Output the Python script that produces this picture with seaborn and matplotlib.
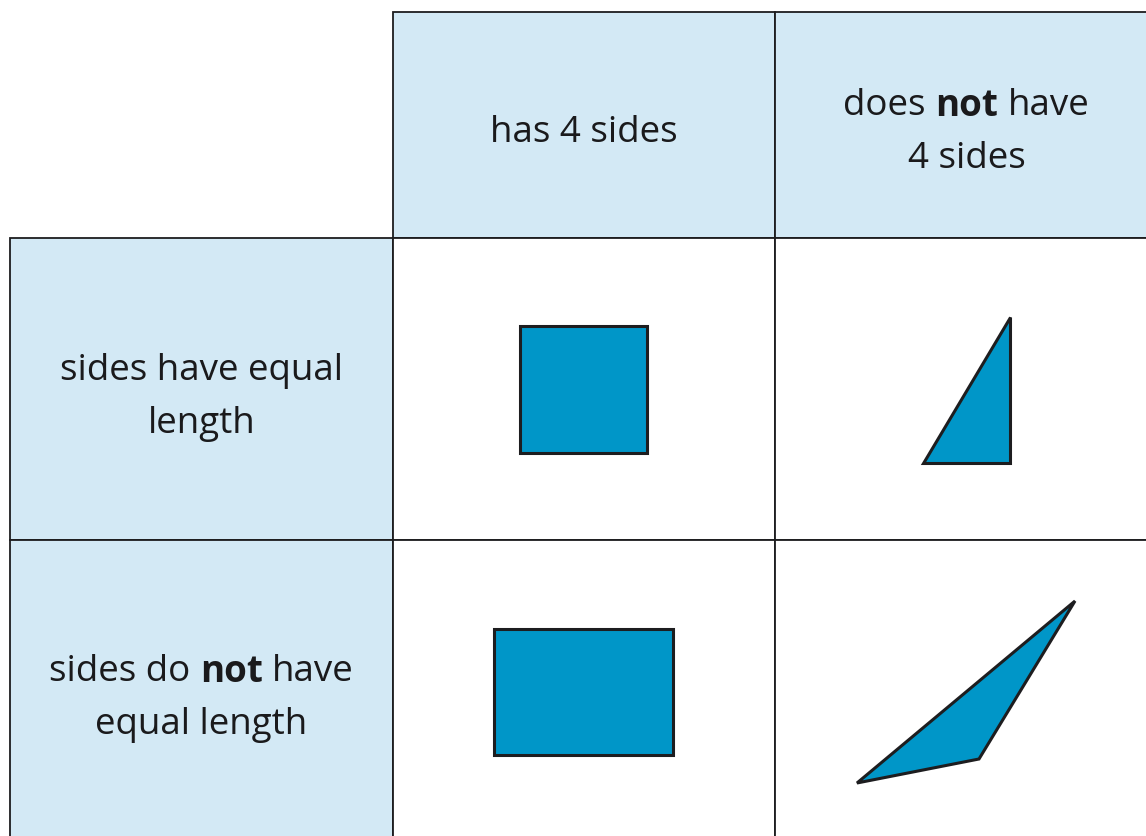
import numpy as np
import pandas as pd
import seaborn as sns
import matplotlib
matplotlib.use("Agg")
import matplotlib.pyplot as plt
from matplotlib.patches import Rectangle

# ---------------- data ----------------
col_edges = [10, 393, 775, 1160]
row_edges = [13, 239, 541, 860]

header_labels = [
    [],
    [[("has 4 sides", False)]],
    [[("does", False), ("not", True), ("have", False)], [("4 sides", False)]],
]
row_labels = [
    [[("sides have equal", False)], [("length", False)]],
    [[("sides do", False), ("not", True), ("have", False)], [("equal length", False)]],
]

square_x = [520, 647, 647, 520]
square_y = [327, 327, 454, 454]
right_tri_x = [1010, 1010, 923]
right_tri_y = [318, 464, 464]
rect_x = [494, 673, 673, 494]
rect_y = [630, 630, 756, 756]
scalene_x = [1075, 979, 857]
scalene_y = [602, 760, 784]

# ---------------- style ----------------
W, H = 1146, 837
LIGHT = "#d3e9f5"
SHAPE = "#0096c8"
EDGE = "#1d1d1f"
TEXT = "#1a1a1c"
FONT = "Open Sans"
FS = 26.5
LINE_GAP = 53

sns.set_theme(style="white")
plt.rcParams["font.family"] = [FONT, "DejaVu Sans"]

fig = plt.figure(figsize=(W / 100, H / 100), dpi=100)
ax = fig.add_axes([0, 0, 1, 1])
ax.set_xlim(0, W)
ax.set_ylim(H, 0)
ax.axis("off")
fig.patch.set_facecolor("white")

# grid cells
for r in range(3):
    for c in range(3):
        if r == 0 and c == 0:
            continue
        x0, x1 = col_edges[c], col_edges[c + 1]
        y0, y1 = row_edges[r], row_edges[r + 1]
        fc = LIGHT if (r == 0 or c == 0) else "white"
        ax.add_patch(Rectangle((x0, y0), x1 - x0, y1 - y0, facecolor=fc,
                               edgecolor=EDGE, linewidth=1.3, zorder=1))

fig.canvas.draw()
renderer = fig.canvas.get_renderer()


def text_width(s, bold):
    t = ax.text(0, 0, s, fontsize=FS, fontweight="bold" if bold else "normal")
    w = t.get_window_extent(renderer).width
    t.remove()
    return w


space_w = text_width("a a", False) - text_width("aa", False)


def draw_line(segs, cx, cy):
    widths = [text_width(s, b) for s, b in segs]
    total = sum(widths) + space_w * (len(segs) - 1)
    x = cx - total / 2
    for (s, b), w in zip(segs, widths):
        ax.text(x, cy, s, fontsize=FS, fontweight="bold" if b else "normal",
                ha="left", va="center_baseline", color=TEXT, zorder=5)
        x += w + space_w


def draw_block(lines, cx, cy):
    n = len(lines)
    for i, segs in enumerate(lines):
        y = cy + (i - (n - 1) / 2) * LINE_GAP
        draw_line(segs, cx, y)


header_cy = [0, 128, 128]
for c in range(1, 3):
    cx = (col_edges[c] + min(col_edges[c + 1], 1158)) / 2
    draw_block(header_labels[c], cx, header_cy[c])

row_cy = [393, 694]
for r in range(2):
    cx = (col_edges[0] + col_edges[1]) / 2
    draw_block(row_labels[r], cx, row_cy[r])

for xs, ys in [(square_x, square_y), (right_tri_x, right_tri_y),
               (rect_x, rect_y), (scalene_x, scalene_y)]:
    ax.fill(xs, ys, facecolor=SHAPE, edgecolor=EDGE, linewidth=2.2,
            joinstyle="miter", zorder=3)

fig.savefig("out.png", dpi=100, facecolor="white")
